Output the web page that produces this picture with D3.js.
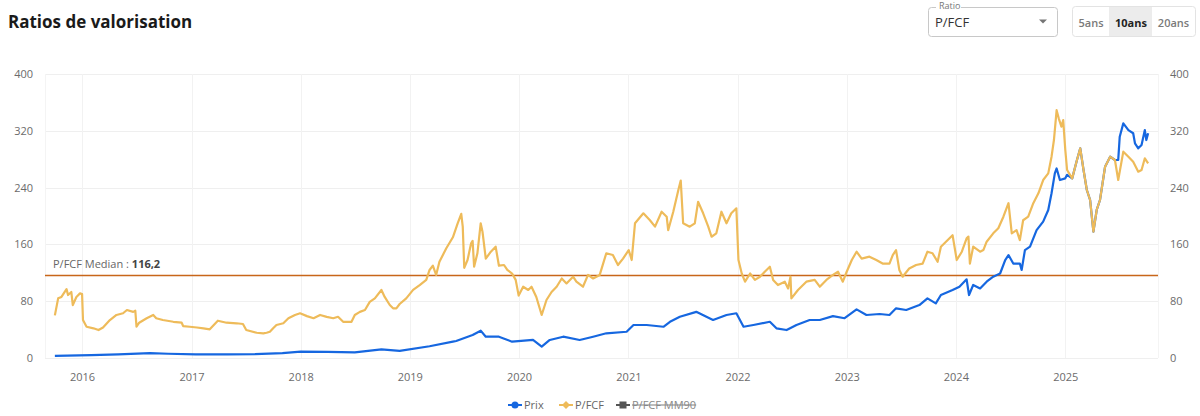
<!DOCTYPE html>
<html>
<head>
<meta charset="utf-8">
<script src="https://cdn.jsdelivr.net/npm/d3@7"></script>
<style>
  html, body { margin: 0; padding: 0; background: #fff; }
  svg { display: block; font-family: "Open Sans", "Noto Sans", sans-serif; }
</style>
</head>
<body>
<svg id="chart" width="1200" height="416"></svg>
<script>
// ---------- DATA ----------
const title = "Ratios de valorisation";
const yearLabels = ["2016","2017","2018","2019","2020","2021","2022","2023","2024","2025"];
const yTicks = [0, 80, 160, 240, 320, 400];
const medianValue = 116.2;
const medianLabel = "P/FCF Median : ";
const medianText = "116,2";
const legendLabels = ["Prix", "P/FCF", "P/FCF MM90"];
const ratioOptions = ["P/FCF"];
const periodButtons = ["5ans", "10ans", "20ans"];

const pfcfDates = [
  "2015-10-02","2015-10-13","2015-10-24","2015-11-10","2015-11-15","2015-11-26","2015-12-01","2015-12-13","2015-12-25","2016-01-01",
  "2016-01-04","2016-01-16","2016-02-08","2016-02-25","2016-03-11","2016-04-03","2016-04-25","2016-05-17","2016-05-30","2016-06-20",
  "2016-06-27","2016-07-01","2016-07-10","2016-08-04","2016-08-26","2016-09-05","2016-09-27","2016-11-01","2016-11-29","2016-12-04",
  "2016-12-26","2017-01-19","2017-02-10","2017-03-03","2017-03-30","2017-04-28","2017-06-01","2017-06-22","2017-07-03","2017-08-07",
  "2017-08-29","2017-09-09","2017-09-20","2017-10-01","2017-10-12","2017-11-04","2017-11-21","2017-12-13","2017-12-30","2018-01-22",
  "2018-02-13","2018-03-07","2018-03-29","2018-04-20","2018-05-06","2018-05-23","2018-06-20","2018-07-01","2018-07-18","2018-08-04",
  "2018-08-20","2018-09-06","2018-09-28","2018-10-09","2018-10-26","2018-11-06","2018-11-17","2018-11-28","2018-12-20","2019-01-12",
  "2019-02-03","2019-02-25","2019-03-08","2019-03-19","2019-03-30","2019-04-10","2019-05-03","2019-05-25","2019-06-10","2019-06-22",
  "2019-06-27","2019-07-02","2019-07-13","2019-07-25","2019-07-30","2019-08-04","2019-08-15","2019-08-26","2019-09-01","2019-09-12",
  "2019-09-29","2019-10-15","2019-10-26","2019-11-12","2019-11-23","2019-12-09","2019-12-21","2019-12-31","2020-01-15","2020-02-01",
  "2020-02-12","2020-02-28","2020-03-17","2020-04-02","2020-04-19","2020-05-06","2020-05-23","2020-06-08","2020-06-30","2020-07-11",
  "2020-08-02","2020-08-19","2020-09-05","2020-09-27","2020-10-19","2020-11-10","2020-11-27","2020-12-14","2021-01-02","2021-01-12",
  "2021-01-23","2021-02-20","2021-03-14","2021-03-31","2021-04-22","2021-05-09","2021-05-14","2021-05-31","2021-06-17","2021-06-25",
  "2021-07-03","2021-07-25","2021-08-11","2021-08-22","2021-09-08","2021-09-25","2021-10-06","2021-10-22","2021-11-08","2021-11-25",
  "2021-12-11","2021-12-28","2022-01-04","2022-01-15","2022-01-26","2022-02-12","2022-02-28","2022-03-17","2022-04-02","2022-04-19",
  "2022-04-30","2022-05-16","2022-06-08","2022-06-19","2022-06-27","2022-06-30","2022-07-22","2022-08-19","2022-09-16","2022-10-03",
  "2022-10-25","2022-11-16","2022-12-03","2022-12-19","2023-01-01","2023-01-18","2023-02-03","2023-02-20","2023-03-18","2023-04-10",
  "2023-05-01","2023-05-24","2023-06-04","2023-06-15","2023-06-26","2023-07-07","2023-07-29","2023-08-21","2023-09-12","2023-09-28",
  "2023-10-15","2023-11-01","2023-11-12","2023-11-29","2023-12-21","2024-01-04","2024-01-21","2024-02-06","2024-02-12","2024-02-17",
  "2024-02-28","2024-03-22","2024-04-02","2024-04-13","2024-05-05","2024-05-22","2024-06-08","2024-06-25","2024-07-06","2024-07-22",
  "2024-08-02","2024-08-13","2024-08-30","2024-09-16","2024-10-03","2024-10-19","2024-11-05","2024-11-16","2024-11-24","2024-12-03",
  "2024-12-10","2024-12-19","2024-12-25","2025-01-01","2025-01-07","2025-01-24","2025-02-09","2025-02-20","2025-03-03","2025-03-14",
  "2025-03-25","2025-04-05","2025-04-16","2025-04-27","2025-05-14","2025-05-31","2025-06-16","2025-06-27","2025-07-14","2025-07-31",
  "2025-08-16","2025-09-02","2025-09-13","2025-09-24","2025-10-05"
];
const pfcfValues = [
  60, 84, 86, 97, 88.7, 93, 74.6, 86, 91, 90,
  53.5, 44, 41.8, 39.4, 43, 53.5, 60.6, 63, 67.6, 65,
  66.6, 44, 49.7, 55.9, 60.6, 56, 53.5, 51, 49.7, 45,
  44, 43, 41.8, 40.4, 52.5, 49.7, 48.9, 47.9, 39.4, 35.6,
  34.8, 35.6, 37, 41.8, 46.5, 48.9, 56, 60.6, 63, 59,
  56, 60.6, 58, 56, 58, 51, 51, 60.6, 65, 67.6,
  79, 84, 95.8, 86, 74.6, 70, 70, 76, 84, 96,
  102.8, 110, 124, 130, 117, 135.6, 154.5, 170, 189.7, 203,
  185, 127, 138, 161.5, 165, 128.6, 147.5, 189.7, 178, 140,
  149.7, 156.8, 130, 131, 124, 119, 110, 88, 100.4, 95.8,
  100.4, 86, 60.6, 81.7, 93, 100.4, 112, 105, 114.5, 107.5,
  100.4, 117, 112, 117, 147.5, 145, 131, 140, 152, 138,
  189.7, 203.8, 194, 185, 206, 199, 180, 206, 236.6, 250,
  189.7, 185, 189.7, 220, 203.8, 185, 170.8, 175.6, 206, 189.7,
  203.8, 210.8, 138, 119, 107.5, 119, 110, 114.5, 121.5, 128.6,
  110, 102.8, 107.5, 98, 114.5, 84, 95.8, 107.5, 110, 100.4,
  110, 117, 121.5, 107.5, 121.5, 138, 149.7, 140, 142.7, 138,
  133, 133, 145, 152, 124, 114.5, 126, 131, 133, 149.7,
  147.5, 135.6, 156.8, 163.8, 173, 138, 149.7, 168.6, 171, 133,
  156.8, 149.7, 152, 163.8, 175.6, 182.7, 199, 218, 175.6, 180,
  166, 194, 199, 218, 232, 250.7, 260, 283.5, 307, 349,
  337.6, 325.8, 335, 293, 264.8, 253, 278.9, 295.3, 264.8, 236.6,
  222.5, 178, 208.5, 222.5, 269.4, 283.5, 278.9, 250.7, 290.6, 283.5,
  276.5, 262.4, 264.8, 281.3, 274.2
];

const prixDates = [
  "2015-10-02","2016-02-01","2016-05-01","2016-08-15","2016-10-15","2017-01-15","2017-05-01","2017-08-01","2017-11-01","2018-01-01",
  "2018-04-01","2018-07-01","2018-09-28","2018-11-28","2019-03-08","2019-05-25","2019-06-05","2019-07-30","2019-08-26","2019-09-12",
  "2019-10-15","2019-10-26","2019-12-09","2020-02-17","2020-03-17","2020-04-13","2020-05-28","2020-07-22","2020-09-05","2020-10-19",
  "2020-12-26","2021-01-18","2021-03-03","2021-04-28","2021-05-20","2021-06-22","2021-08-16","2021-10-11","2021-11-25","2021-12-28",
  "2022-01-21","2022-02-23","2022-04-19","2022-05-11","2022-06-14","2022-07-17","2022-08-30","2022-10-03","2022-11-16","2022-12-25",
  "2023-02-03","2023-03-08","2023-04-21","2023-05-24","2023-06-15","2023-07-19","2023-09-01","2023-09-28","2023-10-26","2023-11-12",
  "2023-12-21","2024-01-13","2024-02-06","2024-02-14","2024-02-28","2024-03-22","2024-04-13","2024-05-05","2024-05-28","2024-06-14",
  "2024-06-25","2024-07-11","2024-08-02","2024-08-08","2024-08-19","2024-09-05","2024-09-27","2024-10-19","2024-11-05","2024-11-16",
  "2024-11-27","2024-12-03","2024-12-14","2025-01-01","2025-01-07","2025-01-24","2025-02-09","2025-02-20","2025-03-03","2025-03-14",
  "2025-03-25","2025-04-05","2025-04-16","2025-04-27","2025-05-14","2025-05-31","2025-06-16","2025-06-27","2025-07-02","2025-07-14",
  "2025-07-31","2025-08-16","2025-08-22","2025-09-02","2025-09-13","2025-09-24","2025-09-29","2025-10-05"
];
const prixValues = [
  3, 4, 5, 7, 6, 5, 5, 5.5, 7, 9,
  8.5, 8, 12.2, 10, 16.5, 23, 24, 32.4, 38.5, 30,
  30, 30, 23, 25.4, 16, 25.4, 30, 25.4, 30, 34.8,
  37, 46.5, 46.5, 44, 51, 58, 65, 53.5, 60.6, 63,
  44, 46.5, 51, 41.8, 39.4, 46.5, 53.5, 53.5, 59, 56,
  68.5, 60.6, 62, 60.6, 70, 67.6, 74.6, 84, 77, 88.7,
  95.8, 100.4, 110.8, 88.7, 102.8, 98, 107.5, 114.5, 119, 138,
  145, 133, 133, 124, 152, 156.8, 180, 192, 208.5, 232,
  260, 267, 250.7, 253, 258, 253, 278.9, 295.3, 264.8, 236.6,
  222.5, 178, 208.5, 222.5, 269.4, 283.5, 278.9, 279, 311.7, 330.5,
  321, 316.5, 302.4, 295.3, 300, 321, 307, 316.5
];

// ---------- CHART ----------
const svg = d3.select("#chart");
const plot = { left: 45, right: 1158, top: 74, bottom: 358 };

const parse = d3.timeParse("%Y-%m-%d");
const pfcf = pfcfDates.map((d, i) => ({ date: parse(d), v: pfcfValues[i] }));
const prix = prixDates.map((d, i) => ({ date: parse(d), v: prixValues[i] }));

const x = d3.scaleTime()
  .domain([parse("2015-08-30"), parse("2025-11-07")])
  .range([plot.left, plot.right]);
const y = d3.scaleLinear().domain([0, 400]).range([plot.bottom, plot.top]);

// Title
svg.append("text").attr("x", 8).attr("y", 28)
  .attr("font-size", 17).attr("font-weight", 700).attr("fill", "#1a1a1a")
  .text(title);

// Dropdown
const dd = svg.append("g");
dd.append("rect").attr("x", 928.5).attr("y", 7.5).attr("width", 129).attr("height", 29)
  .attr("rx", 3).attr("fill", "#fff").attr("stroke", "#c8c8c8");
dd.append("rect").attr("x", 936).attr("y", 3).attr("width", 25).attr("height", 8).attr("fill", "#fff");
dd.append("text").attr("x", 939).attr("y", 8.5).attr("font-size", 9).attr("fill", "#777").text("Ratio");
dd.append("text").attr("x", 935).attr("y", 26.5).attr("font-size", 13).attr("fill", "#333").text(ratioOptions[0]);
dd.append("path").attr("d", "M1039,19.5 L1047,19.5 L1043,23.5 Z").attr("fill", "#757575");

// Period buttons
const bg = svg.append("g");
bg.append("rect").attr("x", 1072.5).attr("y", 6.5).attr("width", 123).attr("height", 30)
  .attr("rx", 3).attr("fill", "#fff").attr("stroke", "#e3e3e3");
bg.append("rect").attr("x", 1109).attr("y", 7).attr("width", 43).attr("height", 29).attr("fill", "#ececec");
const btnX = [1091, 1131, 1173.5];
periodButtons.forEach((b, i) => {
  bg.append("text").attr("x", btnX[i]).attr("y", 26.5).attr("text-anchor", "middle")
    .attr("font-size", 11).attr("font-weight", i === 1 ? 700 : 600)
    .attr("fill", i === 1 ? "#222" : "#7a7a7a").text(b);
});

// Grid
const grid = svg.append("g");
grid.selectAll(".hg").data(yTicks).join("line")
  .attr("x1", plot.left).attr("x2", plot.right)
  .attr("y1", d => Math.round(y(d)) + 0.5).attr("y2", d => Math.round(y(d)) + 0.5)
  .attr("stroke", "#efefef").attr("stroke-width", 1);
const yearDates = yearLabels.map(l => parse(l + "-01-01"));
grid.selectAll(".vg").data(yearDates).join("line")
  .attr("x1", d => Math.round(x(d)) + 0.5).attr("x2", d => Math.round(x(d)) + 0.5)
  .attr("y1", plot.top).attr("y2", plot.bottom)
  .attr("stroke", "#f2f2f2").attr("stroke-width", 1);
[plot.left, plot.right].forEach(px => {
  grid.append("line").attr("x1", px + 0.5).attr("x2", px + 0.5)
    .attr("y1", plot.top).attr("y2", plot.bottom).attr("stroke", "#f4f4f4");
});

// Axes
const yAxisL = d3.axisLeft(y).tickValues(yTicks).tickSize(0).tickPadding(0);
const gL = svg.append("g").attr("transform", `translate(33,0)`).call(yAxisL);
const yAxisR = d3.axisRight(y).tickValues(yTicks).tickSize(0).tickPadding(0);
const gR = svg.append("g").attr("transform", `translate(1170,0)`).call(yAxisR);
const xAxis = d3.axisBottom(x).tickValues(yearDates).tickFormat((d, i) => yearLabels[i]).tickSize(0).tickPadding(0);
const gX = svg.append("g").attr("transform", `translate(0,373)`).call(xAxis);
[gL, gR, gX].forEach(g => {
  g.select(".domain").remove();
  g.selectAll("text").attr("font-size", 11).attr("fill", "#6b6b6b")
    .attr("font-family", "'Open Sans', sans-serif");
});

// Median line
svg.append("line").attr("x1", plot.left).attr("x2", plot.right)
  .attr("y1", y(medianValue)).attr("y2", y(medianValue))
  .attr("stroke", "#c8661a").attr("stroke-width", 1.6);
const ml = svg.append("text").attr("x", 53).attr("y", y(medianValue) - 7)
  .attr("font-size", 11).attr("fill", "#666");
ml.append("tspan").text(medianLabel);
ml.append("tspan").attr("font-weight", 700).attr("fill", "#444").text(medianText);

// Lines
const line = d3.line().x(d => x(d.date)).y(d => y(d.v)).curve(d3.curveLinear);
svg.append("path").datum(prix).attr("d", line)
  .attr("fill", "none").attr("stroke", "#1667e0").attr("stroke-width", 2.2)
  .attr("stroke-linejoin", "round");
svg.append("path").datum(pfcf).attr("d", line)
  .attr("fill", "none").attr("stroke", "#eebb5a").attr("stroke-width", 2.2)
  .attr("stroke-linejoin", "round");

// Legend
const lg = svg.append("g");
const legendX = [515, 566, 623];
const legendColors = ["#1667e0", "#eebb5a", "#555"];
const ly = 405;
legendLabels.forEach((l, i) => {
  const cx = legendX[i];
  lg.append("line").attr("x1", cx - 7).attr("x2", cx + 7).attr("y1", ly).attr("y2", ly)
    .attr("stroke", legendColors[i]).attr("stroke-width", 2);
  if (i === 0) {
    lg.append("circle").attr("cx", cx).attr("cy", ly).attr("r", 3.5).attr("fill", legendColors[i]);
  } else if (i === 1) {
    lg.append("path").attr("d", `M${cx},${ly-4} L${cx+4},${ly} L${cx},${ly+4} L${cx-4},${ly} Z`).attr("fill", legendColors[i]);
  } else {
    lg.append("rect").attr("x", cx - 3.5).attr("y", ly - 3.5).attr("width", 7).attr("height", 7).attr("fill", legendColors[i]);
  }
  const t = lg.append("text").attr("x", cx + 9).attr("y", ly + 4)
    .attr("font-size", 11).attr("fill", i === 2 ? "#888" : "#666").text(l);
  if (i === 2) t.attr("text-decoration", "line-through");
});
</script>
</body>
</html>
